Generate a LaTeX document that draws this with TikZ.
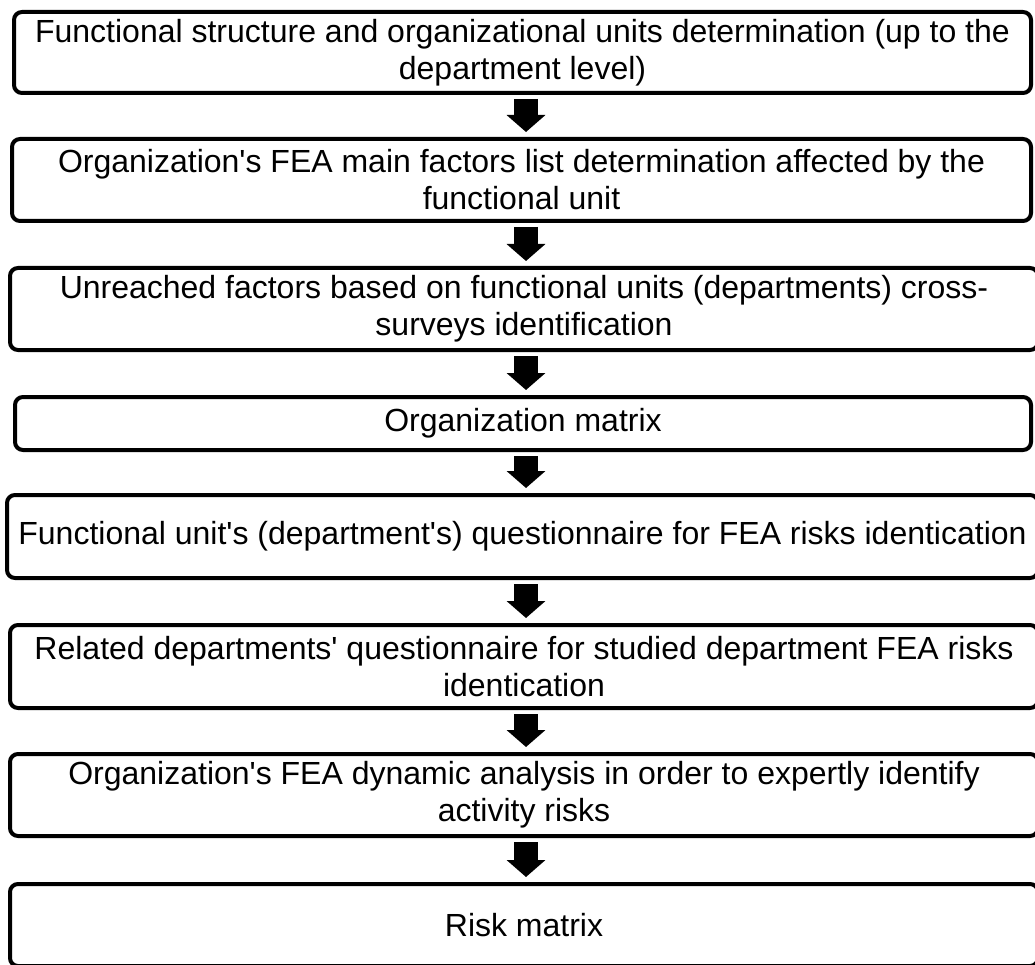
\documentclass[tikz,border=0pt]{standalone}
\usepackage{fontspec}
\setmainfont{Liberation Sans}
\usetikzlibrary{arrows.meta,calc}

\begin{document}
\begin{tikzpicture}[
x=1pt, y=1pt,
box/.style={
rectangle,
draw,
line width=4pt,
rounded corners=8pt,
inner sep=0pt,
align=center,
font=\fontsize{32}{37}\selectfont
},
arrow/.style={-{Triangle[width=38pt,length=17pt]},line width=24pt}
]
\useasboundingbox (0,0) rectangle (1035,-965);
\clip (0,0) rectangle (1035,-965);

\coordinate (axis) at (526,0);

\node[box, minimum width=1017pt, minimum height=81pt] (units) at (522.5,-52.5) {Functional structure and organizational units determination (up to the\\department level)};
\node[box, minimum width=1019pt, minimum height=82pt] (factors) at (521.5,-180) {Organization\textquotesingle s FEA main factors list determination affected by the\\functional unit};
\node[box, minimum width=1028pt, minimum height=82pt] (unreached) at (524,-309) {Unreached factors based on functional units (departments) cross-\\surveys identification};
\node[box, minimum width=1016pt, minimum height=53pt] (orgmatrix) at (523,-423.5) {Organization matrix};
\node[box, minimum width=1031pt, minimum height=83pt] (unitquest) at (522.5,-536.5) {Functional unit\textquotesingle s (department\textquotesingle s) questionnaire for FEA risks identication};
\node[box, minimum width=1028pt, minimum height=83pt] (relquest) at (524,-666.5) {Related departments\textquotesingle{} questionnaire for studied department FEA risks\\identication};
\node[box, minimum width=1028pt, minimum height=82pt] (dynamic) at (524,-795) {Organization\textquotesingle s FEA dynamic analysis in order to expertly identify\\activity risks};
\node[box, minimum width=1028pt, minimum height=82pt] (riskmatrix) at (524,-925) {Risk matrix};

\draw[arrow] ($(units.south -| axis)+(0,-4)$) -- ($(factors.north -| axis)+(0,5)$);
\draw[arrow] ($(factors.south -| axis)+(0,-4)$) -- ($(unreached.north -| axis)+(0,5)$);
\draw[arrow] ($(unreached.south -| axis)+(0,-4)$) -- ($(orgmatrix.north -| axis)+(0,5)$);
\draw[arrow] ($(orgmatrix.south -| axis)+(0,-4)$) -- ($(unitquest.north -| axis)+(0,5)$);
\draw[arrow] ($(unitquest.south -| axis)+(0,-4)$) -- ($(relquest.north -| axis)+(0,5)$);
\draw[arrow] ($(relquest.south -| axis)+(0,-4)$) -- ($(dynamic.north -| axis)+(0,5)$);
\draw[arrow] ($(dynamic.south -| axis)+(0,-4)$) -- ($(riskmatrix.north -| axis)+(0,5)$);

\end{tikzpicture}
\end{document}
